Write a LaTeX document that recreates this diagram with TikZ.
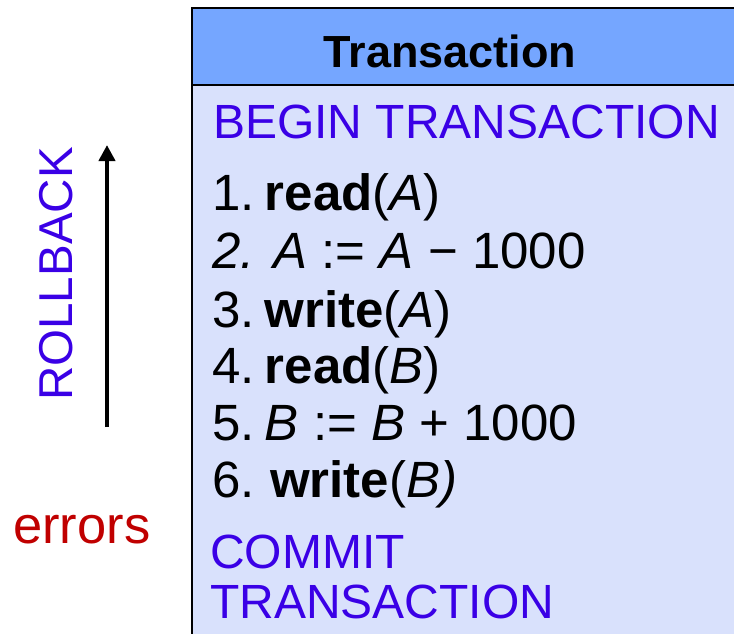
\documentclass[tikz,border=0pt]{standalone}
\usepackage{fontspec}
\setmainfont{Liberation Sans}
\usetikzlibrary{arrows.meta}
\definecolor{headblue}{RGB}{117,166,255}
\definecolor{bodyblue}{RGB}{217,225,252}
\definecolor{kwblue}{RGB}{58,0,230}
\definecolor{errred}{RGB}{192,0,0}
\newcommand{\numgap}{\hspace{0.2em}}
\begin{document}
\begin{tikzpicture}[x=1pt,y=-1pt,
  stepline/.style={anchor=base west,inner sep=0pt,font=\fontsize{51}{51}\selectfont},
  kwline/.style={anchor=base west,inner sep=0pt,text=kwblue,font=\fontsize{48}{50}\selectfont}]
  \useasboundingbox (0,0) rectangle (734,633);
  % transaction box, cut off at the right and bottom
  \fill[bodyblue] (192,8) rectangle (760,660);
  \fill[headblue] (192,8) rectangle (760,85);
  \draw[line width=2.5pt] (192,660) -- (192,8) -- (760,8);
  \draw[line width=2.5pt] (192,85) -- (760,85);
  \node[anchor=base,inner sep=0pt,font=\fontsize{45}{45}\selectfont\bfseries] (title) at (450,67) {Transaction};

  \node[kwline] (begin) at (213,138) {BEGIN TRANSACTION};
  \node[stepline] (s1) at (212,210) {1.\numgap\textbf{read}(\textit{A})};
  \node[stepline] (s2) at (212,268) {\textit{2. A} := \textit{A} − 1000};
  \node[stepline] (s3) at (212,327) {3.\numgap\textbf{write}(\textit{A})};
  \node[stepline] (s4) at (212,383) {4.\numgap\textbf{read}(\textit{B})};
  \node[stepline] (s5) at (212,440) {5.\numgap\textit{B} := \textit{B} + 1000};
  \node[stepline] (s6) at (212,497) {6.\hspace{0.3em}\textbf{write}(\textit{B)}};
  \node[kwline] (commit) at (210,568) {COMMIT};
  \node[kwline] (commit2) at (210,618) {TRANSACTION};

  % rollback arrow
  \coordinate (rbstart) at (107,427);
  \coordinate (rbend) at (107,145);
  \draw[line width=4pt,-{Triangle[length=16pt,width=16pt]}] (rbstart) -- (rbend);
  \node[rotate=90,anchor=base,inner sep=0pt,text=kwblue,font=\fontsize{47.5}{47.5}\selectfont] (rollback) at (72,274) {ROLLBACK};
  \node[anchor=base west,inner sep=0pt,text=errred,font=\fontsize{52.5}{52.5}\selectfont] (errors) at (13,543) {errors};
\end{tikzpicture}
\end{document}
